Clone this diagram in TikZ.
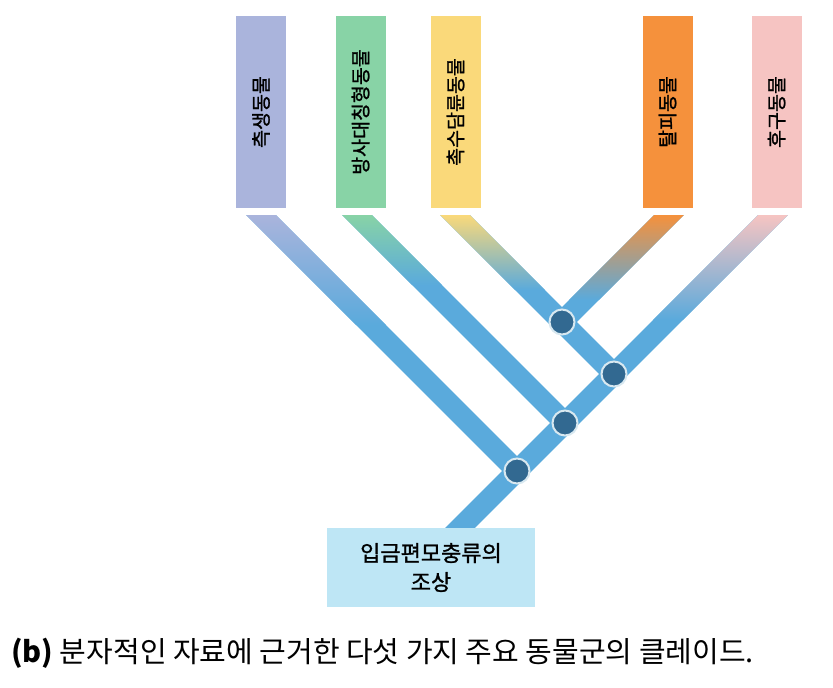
\documentclass[tikz,border=0pt]{standalone}
\usepackage{fontspec}
\setmainfont{Noto Sans CJK KR}
\newfontfamily\medfont[FakeBold=1.2]{Noto Sans CJK KR}
\usepackage{tikz}
\usetikzlibrary{
  calc,        % 坐标计算
  positioning  % 节点相对定位
}

% 颜色
\definecolor{cladeblue}{HTML}{5AAADC}
\definecolor{nodeblue}{HTML}{326991}
\definecolor{ringgray}{HTML}{D8E8F0}
\definecolor{tagpurple}{HTML}{AAB4DC}
\definecolor{taggreen}{HTML}{88D3A6}
\definecolor{tagyellow}{HTML}{FAD97A}
\definecolor{tagorange}{HTML}{F5913C}
\definecolor{tagpink}{HTML}{F6C4C2}
\definecolor{ancbox}{HTML}{BEE6F5}

\tikzset{
  tag/.style={rectangle, fill=#1, rotate=90, minimum width=192, minimum height=50,
    inner sep=0pt, font=\medfont\fontsize{19.5}{19.5}\selectfont},
  branch/.style={draw=cladeblue, line width=21, line cap=butt},
  junction/.style={circle, fill=nodeblue, draw=ringgray, line width=2,
    minimum size=25, inner sep=0pt},
  ancestor/.style={rectangle, fill=ancbox, minimum width=208, minimum height=79,
    inner sep=0pt, align=center, font=\medfont\fontsize{22}{29}\selectfont}
}

% 渐变色段: #1 顶端x, #2 方向(+1 右下, -1 左下), #3 颜色, #4 长度
\newcommand{\fadeband}[4]{%
  \shade[top color=#3, bottom color=cladeblue]
    ({#1-14.85},215) -- ({#1+14.85},215) -- ({#1+14.85+#2*#4},{215+#4})
    -- ({#1-14.85+#2*#4},{215+#4}) -- cycle;}

\begin{document}
\begin{tikzpicture}[x=1pt, y=-1pt]
  \useasboundingbox[fill=white] (0,0) rectangle (833,688);

  % =============== 顶部五个类群标签 ===============
  \node[tag=tagpurple] (para)  at (261,112)   {측생동물};
  \node[tag=taggreen]  (rad)   at (360.5,112) {방사대칭형동물};
  \node[tag=tagyellow] (loph)  at (455.5,112) {촉수담륜동물};
  \node[tag=tagorange] (ecd)   at (667.5,112) {탈피동물};
  \node[tag=tagpink]   (deut)  at (776.5,112) {후구동물};

  % =============== 分支节点 ===============
  \coordinate (n1) at (562,322);
  \coordinate (n2) at (614,374);
  \coordinate (n3) at (565,423);
  \coordinate (n4) at (517,471);

  % 分支顶端（被剪裁成水平切口）
  \coordinate (t1) at (246,200);
  \coordinate (t2) at (342,200);
  \coordinate (t3) at (440,200);
  \coordinate (t4) at (684,200);
  \coordinate (t5) at (788,200);
  \coordinate (r)  at (443,545);

  % =============== 树枝 ===============
  \begin{scope}
    \clip (0,215) rectangle (833,528);
    \draw[branch] (r) -- (n4) -- (n3) -- (n2) -- (t5);
    \draw[branch] (n4) -- (t1);
    \draw[branch] (n3) -- (t2);
    \draw[branch] (n2) -- (n1) -- (t3);
    \draw[branch] (n1) -- (t4);

    % 顶端颜色渐变到蓝色
    \fadeband{261}{1}{tagpurple}{110}
    \fadeband{357}{1}{taggreen}{70}
    \fadeband{455}{1}{tagyellow}{75}
    \fadeband{669}{-1}{tagorange}{85}
    \fadeband{773}{-1}{tagpink}{105}
  \end{scope}

  % 节点圆点
  \foreach \k in {1,...,4}
    \node[junction] (j\k) at (n\k) {};

  % =============== 祖先方框 ===============
  \node[ancestor] (anc) at (431,567.5) {입금편모충류의\\조상};

  % =============== 图注 ===============
  \node[anchor=west, inner sep=0pt, font=\fontsize{29}{29}\selectfont] (cap) at (11,653)
    {\textbf{(b)} 분자적인 자료에 근거한 다섯 가지 주요 동물군의 클레이드.};

\end{tikzpicture}
\end{document}
